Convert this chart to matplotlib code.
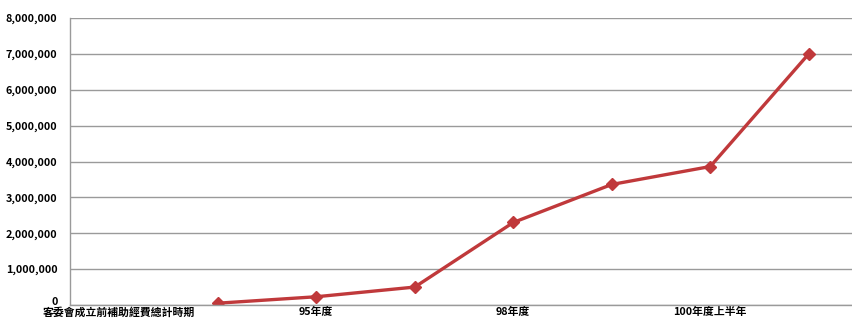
import numpy as np
import matplotlib.pyplot as plt
import matplotlib.transforms as mtransforms
from matplotlib.ticker import FuncFormatter

plt.rcParams['font.family'] = ['Noto Sans CJK TC', 'DejaVu Sans']

categories = ['客委會成立前補助經費總計時期', '94年度', '95年度', '96-97年度',
              '98年度', '99年度', '100年度上半年', '100年度下半年']
shown_labels = ['客委會成立前補助經費總計時期', '95年度', '98年度', '100年度上半年']
values = [np.nan, 50000, 230000, 500000, 2300000, 3360000, 3860000, 7000000]

fig = plt.figure(figsize=(8.53, 3.22), dpi=100)
ax = fig.add_axes([70 / 853, 17 / 322, 788 / 853, 287 / 322])

x = np.arange(len(categories))
ax.plot(x, values, color='#c0393b', lw=2.4, marker='D', ms=6,
        markerfacecolor='#c0393b', markeredgecolor='#c0393b')

ax.set_xlim(-0.5, len(categories) - 0.5)
ax.set_ylim(0, 8000000)
ax.set_yticks(np.arange(0, 8000001, 1000000))
ax.yaxis.set_major_formatter(FuncFormatter(lambda v, p: f'{int(v):,}'))
ax.set_xticks([categories.index(c) for c in shown_labels])
ax.set_xticklabels(shown_labels)

ax.grid(axis='y', color='#9a9a9a', lw=1)
ax.set_axisbelow(True)
for s in ['top', 'right']:
    ax.spines[s].set_visible(False)
for s in ['left', 'bottom']:
    ax.spines[s].set_color('#9a9a9a')
    ax.spines[s].set_linewidth(1)

ax.tick_params(axis='y', length=0, labelsize=7.8, pad=9)
ax.tick_params(axis='x', length=0, labelsize=7.8, pad=1.5)
for lab in ax.get_yticklabels() + ax.get_xticklabels():
    lab.set_fontweight('bold')

# lift the "0" label a bit so it clears the category label underneath
fig.canvas.draw()
zero_lab = ax.get_yticklabels()[0]
zero_lab.set_transform(zero_lab.get_transform() +
                       mtransforms.ScaledTranslation(0, 3 / 72, fig.dpi_scale_trans))

fig.savefig('out.png', dpi=100)
